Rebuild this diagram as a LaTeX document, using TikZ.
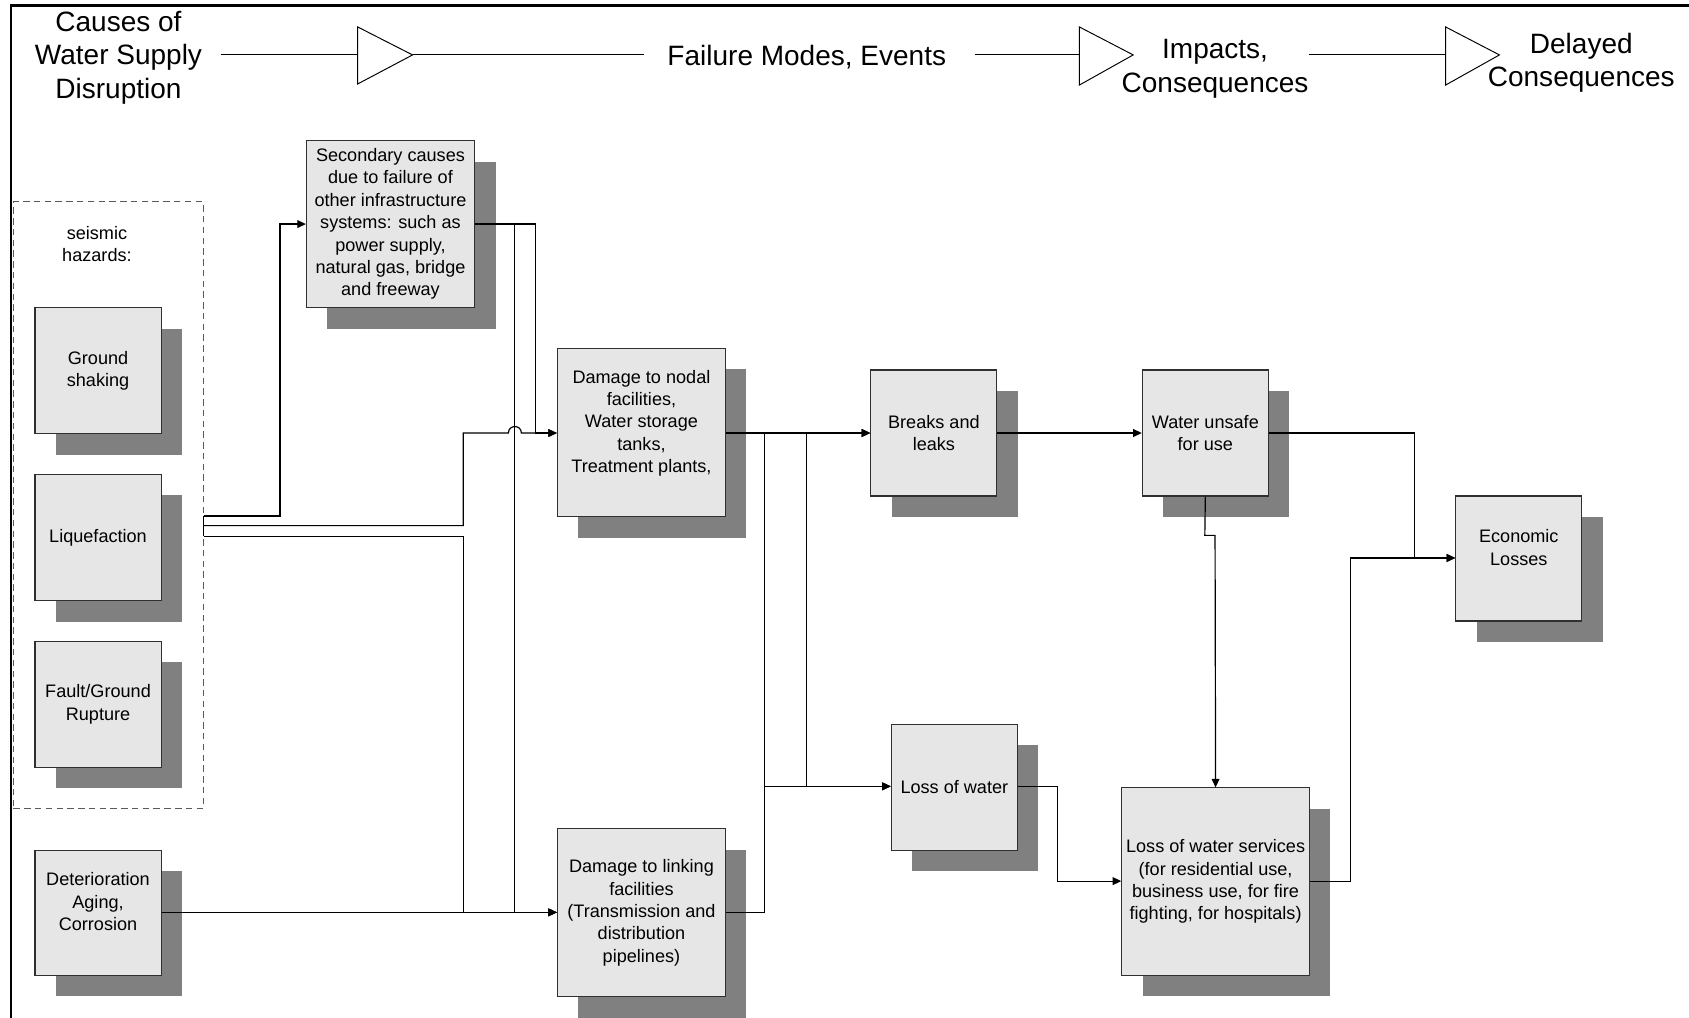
\documentclass[tikz,border=0pt]{standalone}
\usepackage{fontspec}
\setmainfont{Liberation Sans}
\usetikzlibrary{arrows.meta}
\definecolor{boxfill}{HTML}{E6E6E6}
\definecolor{shadecol}{HTML}{808080}
\definecolor{edgecol}{HTML}{303030}
\tikzset{
  box/.style={draw=edgecol, fill=boxfill, line width=0.5pt, inner sep=0pt, align=center,
    font=\fontsize{8.4pt}{10.4pt}\selectfont},
  lbl/.style={inner sep=0pt, align=center, font=\fontsize{8.4pt}{10.4pt}\selectfont},
  head/.style={inner sep=0pt, align=center, font=\fontsize{13pt}{15.5pt}\selectfont},
  conn/.style={line width=0.55pt, black},
  arr/.style={conn, -{Triangle[length=4pt,width=3.6pt]}},
  headline/.style={line width=0.5pt, black},
  headtri/.style={line width=0.45pt, black, fill=white},
}
\newcommand{\shbox}[6]{%
  \fill[shadecol] (#2+20,#3+20) rectangle (#4+20,#5+20);
  \node[box, anchor=north west, minimum width={(#4-#2)*0.5pt}, minimum height={(#5-#3)*0.5pt}] (#1) at (#2,#3) {#6};}
\begin{document}
\begin{tikzpicture}[x=0.5pt,y=-0.5pt]
\useasboundingbox (0,0) rectangle (1568,945);
% page frame (top and left edges visible)
\draw[line width=1.1pt] (10,945) -- (10,5) -- (1568,5);

% header
\node[head] (hcause) at (110,53.5) {Causes of\\Water Supply\\Disruption};
\node[head] (hfail) at (749,53) {Failure Modes, Events};
\node[head] (himp) at (1128,64) {Impacts,\\Consequences};
\node[head] (hdel) at (1468,58) {Delayed\\Consequences};
\coordinate (t1) at (332,51); \coordinate (t1a) at (383,51);
\coordinate (t2) at (1002,51); \coordinate (t2a) at (1052,51);
\coordinate (t3) at (1342,51); \coordinate (t3a) at (1392,51);
\draw[headline] (205,51) -- (t1);
\draw[headline] (t1a) -- (598,51);
\draw[headtri] (332,25) -- (t1a) -- (332,78) -- cycle;
\draw[headline] (905,51) -- (t2);
\draw[headtri] (1002,25) -- (t2a) -- (1002,79) -- cycle;
\draw[headline] (1215,51) -- (t3);
\draw[headtri] (1342,25) -- (t3a) -- (1342,79) -- cycle;

% seismic group
\node[draw=black!65, dash pattern=on 3pt off 2pt, line width=0.5pt, inner sep=0pt,
  anchor=north west, minimum width={(188-12)*0.5pt}, minimum height={(750-187)*0.5pt}] (seis) at (12,187) {};
\node[lbl] (seislbl) at (90,226.5) {seismic\\hazards:};

% boxes
\shbox{sec}{284}{130}{440}{285}{Secondary causes\\due to failure of\\other infrastructure\\systems: such as\\power supply,\\natural gas, bridge\\and freeway}
\shbox{gs}{32}{285}{149}{402}{Ground\\shaking}
\shbox{liq}{32}{440}{149}{557}{Liquefaction}
\shbox{fault}{32}{595}{149}{712}{Fault/Ground\\Rupture}
\shbox{det}{32}{789}{149}{905}{Deterioration\\Aging,\\Corrosion\\ \mbox{}}
\shbox{nodal}{517}{323}{673}{479}{Damage to nodal\\facilities,\\Water storage\\tanks,\\Treatment plants,\\ \mbox{}}
\shbox{link}{517}{769}{673}{925}{Damage to linking\\facilities\\(Transmission and\\distribution\\pipelines)}
\shbox{breaks}{808}{343}{925}{460}{Breaks and\\leaks}
\shbox{unsafe}{1060}{343}{1177}{460}{Water unsafe\\for use}
\shbox{econ}{1351}{460}{1468}{576}{Economic\\Losses\\ \mbox{}}
\shbox{loss}{827}{672}{944}{789}{Loss of water}
\shbox{lws}{1041}{731}{1215}{905}{Loss of water services\\(for residential use,\\business use, for fire\\fighting, for hospitals)}

% connectors: causes -> failure modes
\draw[arr] (seis.east |- 0,479) -| (260,208) -- (sec.west |- 0,208);
\draw[arr] (seis.east |- 0,488) -| (430,402) -- (472,402) .. controls (472,394) and (484,394) .. (484,402) -- (nodal.west |- 0,402);
\draw[arr] (seis.east |- 0,498) -| (430,847) -- (link.west |- 0,847);
\draw[conn] (seis.east |- 0,479) -- (seis.east |- 0,498);
\draw[arr] (sec.east |- 0,208) -| (497,402) -- (nodal.west |- 0,402);
\draw[arr] (sec.east |- 0,208) -| (478,847) -- (link.west |- 0,847);
\draw[arr] (det.east |- 0,847) -- (link.west |- 0,847);

% failure modes -> impacts
\draw[arr] (nodal.east |- 0,402) -- (breaks.west |- 0,402);
\draw[arr] (nodal.east |- 0,402) -| (749,730) -- (loss.west |- 0,730);
\draw[arr] (link.east |- 0,847) -| (710,402) -- (breaks.west |- 0,402);
\draw[arr] (link.east |- 0,847) -| (710,730) -- (loss.west |- 0,730);
\draw[arr] (breaks.east |- 0,402) -- (unsafe.west |- 0,402);

% impacts -> consequences
\draw[arr] (unsafe.east |- 0,402) -| (1313,518) -- (econ.west |- 0,518);
\draw[arr] (unsafe.south) -- (1118.5,497) -- (1128,497) -- (lws.north);
\draw[arr] (loss.east |- 0,730) -| (982,818) -- (lws.west |- 0,818);
\draw[arr] (lws.east |- 0,818) -| (1254,518) -- (econ.west |- 0,518);
\end{tikzpicture}
\end{document}
